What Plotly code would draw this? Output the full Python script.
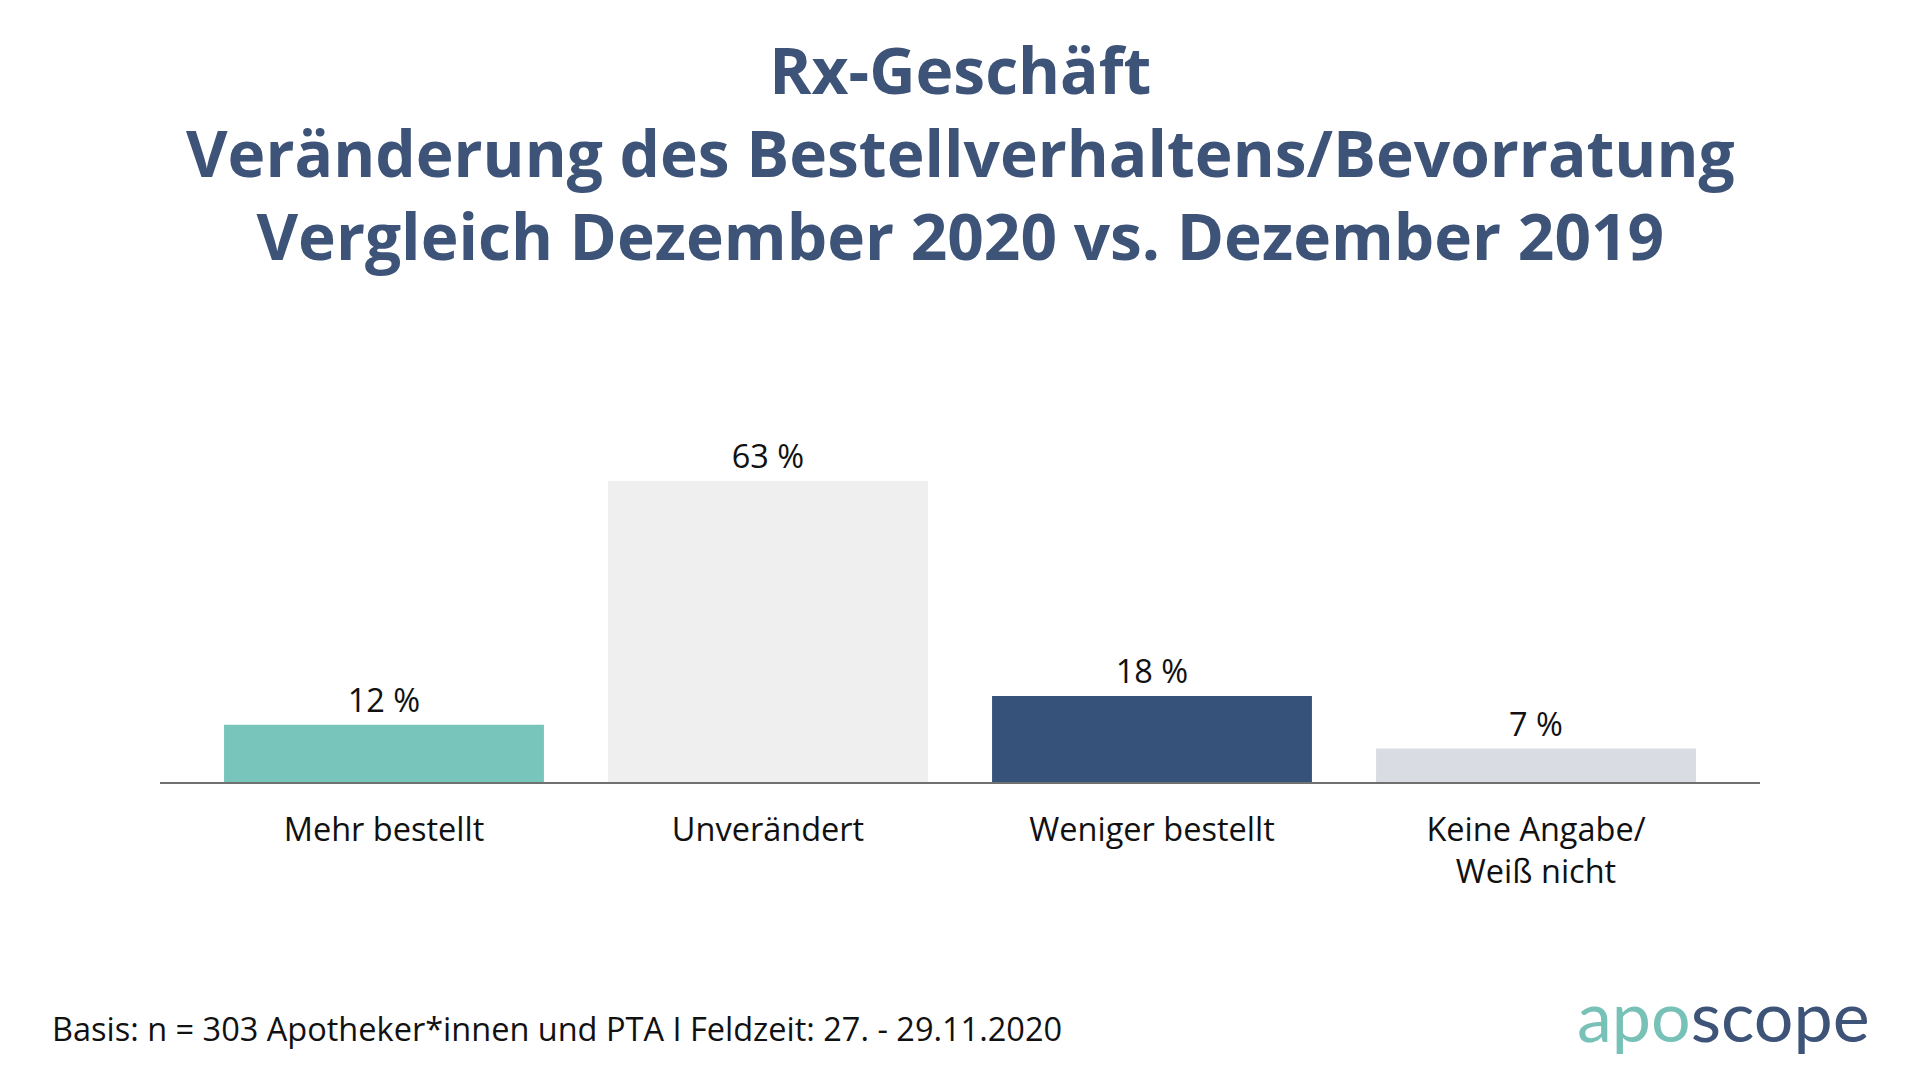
import plotly.graph_objects as go

categories = ["Mehr bestellt", "Unverändert", "Weniger bestellt", "Keine Angabe/<br>Weiß nicht"]
values = [12, 63, 18, 7]
colors = ["#77C5BB", "#EFEFEF", "#36527A", "#D9DCE3"]
title_lines = ["Rx-Geschäft",
               "Veränderung des Bestellverhaltens/Bevorratung",
               "Vergleich Dezember 2020 vs. Dezember 2019"]
footer = "Basis: n = 303 Apotheker*innen und PTA I Feldzeit: 27. - 29.11.2020"

# page body adds an 8px margin; figure coordinates are shifted to compensate
OFF = 8
W, H = 1920 - OFF, 1080 - OFF
L, R, T, B = 160 - OFF, 1760 - OFF, 333 - OFF, 782 - OFF
FONT = "Open Sans"
TITLE_C = "#3D5378"

def px(x):
    return (x - OFF - L) / (R - L)

def py(y):
    return (B - (y - OFF)) / (B - T)

fig = go.Figure(go.Bar(
    x=list(range(len(categories))), y=values,
    marker=dict(color=colors, line=dict(width=0)),
    width=0.833,
    text=[f"{v} %" for v in values], textposition="outside",
    textfont=dict(family=FONT, size=32.5, color="#111111"),
    cliponaxis=False,
))

ann = [dict(text="<b>" + "<br>".join(title_lines) + "</b>", x=px(960), xref="paper",
            y=py(152), yref="paper", xanchor="center", yanchor="middle", showarrow=False,
            align="center", font=dict(family=FONT, size=64, color=TITLE_C))]
ann.append(dict(text=footer, x=px(50), y=py(1028), xref="paper", yref="paper",
                xanchor="left", yanchor="middle", showarrow=False,
                font=dict(family=FONT, size=32.5, color="#111111")))
ann.append(dict(text="<span style='color:#77C1B7'>apo</span><span style='color:#3D5378'>scope</span>",
                x=px(1872), y=py(1015), xref="paper", yref="paper",
                xanchor="right", yanchor="middle", showarrow=False,
                font=dict(family="Lato", size=70, weight=400)))

fig.update_layout(
    width=W, height=H,
    margin=dict(l=L, r=W - R, t=T, b=H - B, pad=0),
    paper_bgcolor="white", plot_bgcolor="white",
    showlegend=False,
    annotations=ann,
    xaxis=dict(range=[-0.5833, 3.5833], tickvals=list(range(len(categories))), ticktext=categories,
               showline=True, linecolor="#707070", linewidth=2, showgrid=False, zeroline=False,
               ticks="", ticklabelstandoff=18,
               tickfont=dict(family=FONT, size=32.5, color="#111111"), fixedrange=True),
    yaxis=dict(range=[0, 94], visible=False, fixedrange=True),
)

fig.write_html("out.html")
